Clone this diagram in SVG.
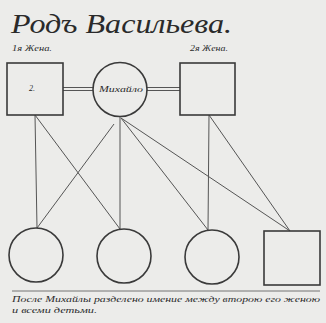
<svg xmlns="http://www.w3.org/2000/svg" width="326" height="323" viewBox="0 0 326 323">
<style>
.s{fill:none;stroke:#3a3a3a;stroke-width:1.6}
.c{fill:none;stroke:#555;stroke-width:1}
.t{font-family:"Liberation Serif",serif;font-style:italic;fill:#2a2a2a}
</style>
<rect width="326" height="323" fill="#ececea"/>
<text class="t" x="11" y="33" font-size="28" textLength="221" lengthAdjust="spacingAndGlyphs">Родъ Васильева.</text>
<text class="t" x="12" y="51" font-size="8" textLength="40" lengthAdjust="spacingAndGlyphs">1я Жена.</text>
<text class="t" x="190" y="51" font-size="8" textLength="38" lengthAdjust="spacingAndGlyphs">2я Жена.</text>
<g id="connectors">
<line class="c" x1="63" y1="87.5" x2="93" y2="87.5"/>
<line class="c" x1="63" y1="90.5" x2="93" y2="90.5"/>
<line class="c" x1="147" y1="87.5" x2="180" y2="87.5"/>
<line class="c" x1="147" y1="90.5" x2="180" y2="90.5"/>
<line class="c" x1="35" y1="115" x2="37" y2="228"/>
<line class="c" x1="35" y1="115" x2="120" y2="229"/>
<line class="c" x1="114" y1="124" x2="37" y2="228"/>
<line class="c" x1="120" y1="117" x2="120" y2="229"/>
<line class="c" x1="121" y1="118" x2="208" y2="230"/>
<line class="c" x1="121" y1="118" x2="290" y2="231"/>
<line class="c" x1="209" y1="115" x2="208" y2="230"/>
<line class="c" x1="209" y1="115" x2="290" y2="231"/>
</g>
<g id="wife1"><rect class="s" x="7" y="63" width="56" height="52"/><text class="t" x="29" y="91" font-size="8">2.</text></g>
<g id="mikhail"><circle class="s" cx="120" cy="89.5" r="27"/><text class="t" x="121" y="92" font-size="9" text-anchor="middle" textLength="44" lengthAdjust="spacingAndGlyphs">Михайло</text></g>
<g id="wife2"><rect class="s" x="180" y="63" width="55" height="52"/></g>
<g id="child1"><circle class="s" cx="36" cy="255" r="27"/></g>
<g id="child2"><circle class="s" cx="124" cy="256" r="27"/></g>
<g id="child3"><circle class="s" cx="212" cy="257" r="27"/></g>
<g id="child4"><rect class="s" x="264" y="231" width="56" height="54"/></g>
<line x1="12" y1="291" x2="320" y2="291" stroke="#555" stroke-width="0.8"/>
<text class="t" x="12" y="302" font-size="8" textLength="308" lengthAdjust="spacingAndGlyphs">После Михайлы разделено имение между второю его женою</text>
<text class="t" x="12" y="313" font-size="8" textLength="85" lengthAdjust="spacingAndGlyphs">и всеми детьми.</text>
</svg>
